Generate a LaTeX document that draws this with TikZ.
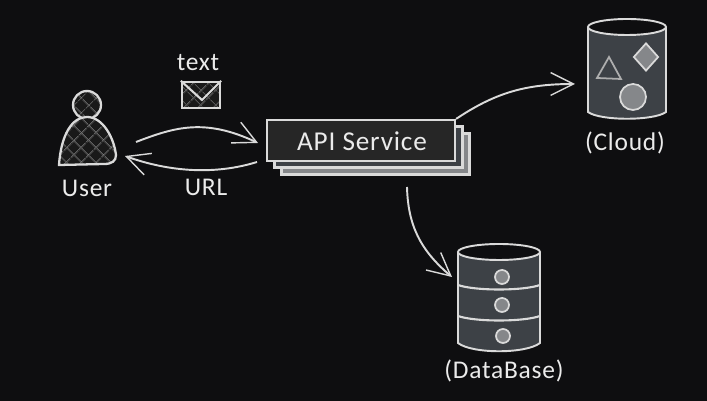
\documentclass[tikz,border=0pt]{standalone}
\usepackage{fontspec}
\setmainfont[LetterSpace=3]{Carlito}
\usetikzlibrary{arrows.meta}
\usetikzlibrary{patterns.meta}
\usetikzlibrary{shapes.geometric}
\definecolor{bg_col}{HTML}{0E0E10}
\definecolor{line_col}{HTML}{DADADA}
\definecolor{hatch_col}{HTML}{555555}
\definecolor{can_col}{HTML}{3D4146}
\definecolor{mark_col}{HTML}{85878A}
\newcommand{\px}{0.02cm}
\newcommand{\handfont}{\fontsize{14.5}{16}\selectfont}

\begin{document}
\begin{tikzpicture}[x=0.02cm, y=-0.02cm, line width=1pt,
        text_style/.style={text=white!92!black,inner sep=0pt,font=\handfont},
        hatch_style/.style={draw=line_col,line width=1.3pt,
            preaction={fill=black!90},
            preaction={pattern={Lines[angle=45,distance=6.5pt,line width=.5pt]},pattern color=hatch_col},
            preaction={pattern={Lines[angle=-45,distance=6.5pt,line width=.5pt]},pattern color=hatch_col}},
        box_style/.style={rectangle,draw=line_col,line width=1.2pt,minimum width=188*\px,minimum height=41*\px,inner sep=0pt},
        can_style/.style={draw=line_col,line width=1.1pt,fill=can_col},
        band_style/.style={draw=line_col,line width=1.2pt},
        dot_style/.style={circle,draw=line_col,fill=mark_col,line width=1pt,inner sep=0pt},
        edge_style/.style={draw=line_col,line width=1.1pt,-{Straight Barb[length=13pt,width=13pt,line width=.8pt]}}]

        \fill [bg_col] (0,0) rectangle (707,401);
        \useasboundingbox (0,0) rectangle (707,401);

        % user
        \node [circle,hatch_style,minimum size=28*\px,inner sep=0pt](user_head) at (87,105) {};
        \draw [hatch_style] (59,165) .. controls (61,135) and (72,117) .. (87,117)
            .. controls (103,117) and (114,138) .. (116,155)
            .. controls (116,161) and (112,164) .. (104,164) -- cycle;
        \node [text_style](user_label) at (87,188) {User};

        % message
        \node [text_style](text_label) at (198,63) {text};
        \node [rectangle,hatch_style,minimum width=38*\px,minimum height=26*\px,inner sep=0pt](mail) at (201,95) {};
        \draw [band_style] (mail.north west) -- (202,100) -- (mail.north east);

        % api stack
        \node [box_style,fill=mark_col](api3) at (375.5,154) {};
        \node [box_style,fill=can_col](api2) at (368.5,147) {};
        \node [box_style,fill=black!85](api1) at (361,140.5) {};
        \node [text_style,font=\fontsize{15.5}{17}\selectfont](api_label) at (362,141) {API Service};

        % cloud
        \draw [can_style] (588,27) -- (588,112) .. controls (600,121) and (654,121) .. (666,112) -- (666,27);
        \draw [can_style,fill=bg_col] (627,27) ellipse [x radius=39,y radius=8];
        \node [diamond,draw=line_col,fill=mark_col,line width=1pt,minimum width=25*\px,minimum height=28*\px,inner sep=0pt](cloud_diamond) at (646,57) {};
        \node [dot_style,minimum size=26*\px](cloud_circle) at (633,97) {};
        \draw [draw=line_col!80!black,line width=1pt] (609,57) -- (597,78) -- (621,79) -- cycle;
        \node [text_style](cloud_label) at (625,143) {(Cloud)};

        % database
        \draw [can_style] (458,252) -- (458,343) .. controls (472,354) and (526,354) .. (540,343) -- (540,252);
        \draw [can_style,fill=bg_col] (499,252) ellipse [x radius=41,y radius=8];
        \draw [band_style] (458,285) .. controls (475,291) and (523,291) .. (540,285);
        \draw [band_style] (458,316) .. controls (475,322) and (523,322) .. (540,316);
        \node [dot_style,minimum size=14*\px](db_dot1) at (502,277) {};
        \node [dot_style,minimum size=14*\px](db_dot2) at (502,305) {};
        \node [dot_style,minimum size=14*\px](db_dot3) at (503,336) {};
        \node [text_style](db_label) at (504,371) {(DataBase)};

        \coordinate (user_out) at (136,142);
        \coordinate (api_in) at (258,143);
        \coordinate (api_out) at (257,162);
        \coordinate (user_in) at (125,156);
        \coordinate (api_down) at (407,187);
        \coordinate (db_in) at (452,277);
        \coordinate (cloud_in) at (575,84);

        \draw [edge_style] (user_out) .. controls (175,127) and (205,118) .. (api_in);
        \draw [edge_style] (api_out) .. controls (215,175) and (170,172) .. (user_in);
        \draw [edge_style] (api1.north east) .. controls (495,93) and (525,84) .. (cloud_in);
        \draw [edge_style] (api_down) .. controls (408,225) and (420,250) .. (db_in);

        \node [text_style](url_label) at (206,187) {URL};
\end{tikzpicture}
\end{document}
